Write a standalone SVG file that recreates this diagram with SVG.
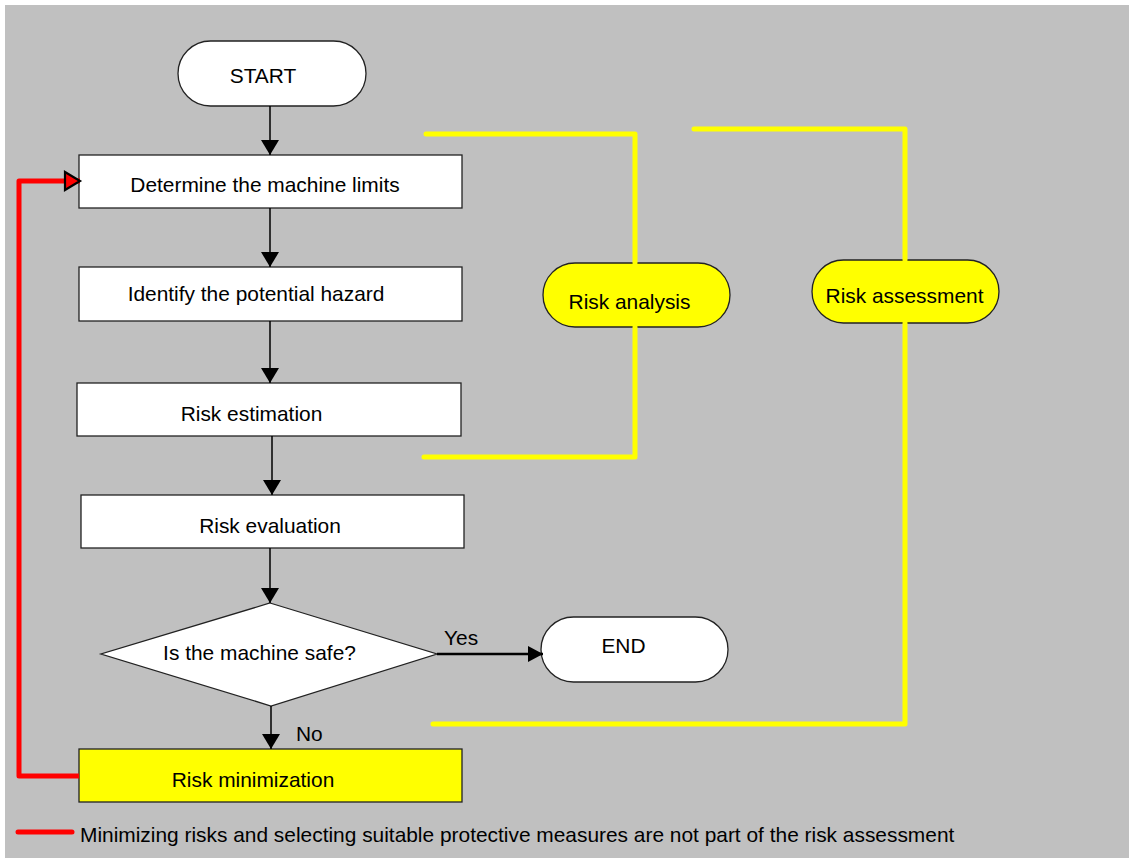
<svg xmlns="http://www.w3.org/2000/svg" width="1129" height="858" viewBox="0 0 1129 858">
<style>
text{font-family:"Liberation Sans",Arial,sans-serif;font-size:20.9px;fill:#000}
.c{text-anchor:middle}
.box{fill:#fff;stroke:#222;stroke-width:1.3}
.ybox{fill:#ffff00;stroke:#222;stroke-width:1.3}
.ln{fill:none;stroke:#000;stroke-width:1.5}
.yl{fill:none;stroke:#ffff00;stroke-width:5;stroke-linecap:round;stroke-linejoin:round}
.rl{fill:none;stroke:#ff0000;stroke-width:5;stroke-linecap:round;stroke-linejoin:round}
</style>
<defs>
<marker id="ah" markerUnits="userSpaceOnUse" markerWidth="16" markerHeight="18" refX="15" refY="9" orient="auto">
<path d="M0,0 L15,9 L0,18 Z" fill="#000"/>
</marker>
<marker id="ahy" markerUnits="userSpaceOnUse" markerWidth="16" markerHeight="17" refX="15" refY="8" orient="auto">
<path d="M0,0 L15,8 L0,16 Z" fill="#000"/>
</marker>
<marker id="ahr" markerUnits="userSpaceOnUse" markerWidth="20" markerHeight="22" refX="17" refY="11" orient="auto">
<path d="M2,2 L17,11 L2,20 Z" fill="#ff0000" stroke="#000" stroke-width="2.2"/>
</marker>
</defs>
<rect x="5" y="5" width="1124" height="853" fill="#c0c0c0"/>
<g id="start"><rect class="box" x="178" y="41" width="188" height="65" rx="32.5"/><text class="c" x="263" y="83">START</text></g>
<g id="limits"><rect class="box" x="79" y="155" width="383" height="53"/><text class="c" x="265" y="192">Determine the machine limits</text></g>
<g id="hazard"><rect class="box" x="79" y="267" width="383" height="54"/><text class="c" x="256" y="301">Identify the potential hazard</text></g>
<g id="estimation"><rect class="box" x="77" y="383" width="384" height="53"/><text class="c" x="251.5" y="421">Risk estimation</text></g>
<g id="evaluation"><rect class="box" x="81" y="495" width="383" height="53"/><text class="c" x="270" y="533">Risk evaluation</text></g>
<g id="safe"><polygon class="box" points="270,603 437,654 271,706 101,654"/><text class="c" x="259.5" y="660">Is the machine safe?</text></g>
<g id="end"><rect class="box" x="541" y="617" width="187" height="65" rx="32.5"/><text class="c" x="623.5" y="653">END</text></g>
<g id="minimization"><rect class="ybox" x="79" y="749" width="383" height="53"/><text class="c" x="253" y="787">Risk minimization</text></g>
<g id="analysis"><rect class="ybox" x="543" y="263" width="187" height="64" rx="32"/><text class="c" x="629.5" y="309">Risk analysis</text></g>
<g id="assessment"><rect class="ybox" x="812" y="260" width="187" height="63" rx="31.5"/><text class="c" x="904.5" y="303">Risk assessment</text></g>
<g id="connectors">
<line class="ln" x1="270" y1="106" x2="270" y2="155" marker-end="url(#ah)"/>
<line class="ln" x1="270" y1="208" x2="270" y2="267" marker-end="url(#ah)"/>
<line class="ln" x1="270" y1="321" x2="270" y2="383" marker-end="url(#ah)"/>
<line class="ln" x1="272" y1="436" x2="272" y2="495" marker-end="url(#ah)"/>
<line class="ln" x1="270" y1="548" x2="270" y2="603" marker-end="url(#ah)"/>
<line class="ln" x1="271" y1="706" x2="271" y2="749" marker-end="url(#ah)"/>
<line class="ln" style="stroke-width:2.7" x1="437" y1="654" x2="543" y2="654" marker-end="url(#ahy)"/>
<text x="444" y="645">Yes</text>
<text x="296" y="741">No</text>
<path class="rl" style="stroke-linecap:butt" d="M79,776 L19,776 L19,181 L80,181" marker-end="url(#ahr)"/>
<path class="yl" d="M426,134 L635,134 L635,263"/>
<path class="yl" d="M635,327 L635,457 L424,457"/>
<path class="yl" d="M694,129 L905,129 L905,260"/>
<path class="yl" d="M905,323 L905,724 L433,724"/>
</g>
<g id="legend">
<line class="rl" x1="18" y1="832" x2="72" y2="832"/>
<text x="80" y="842">Minimizing risks and selecting suitable protective measures are not part of the risk assessment</text>
</g>
</svg>
